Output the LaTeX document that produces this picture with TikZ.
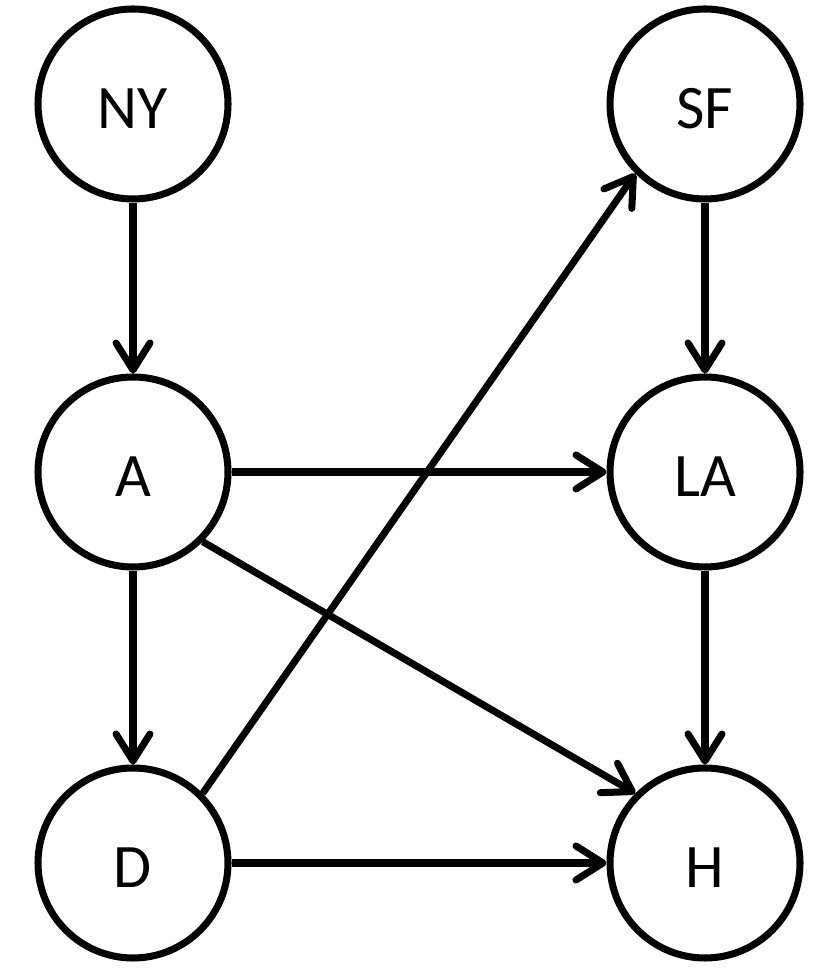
\documentclass[tikz,border=0pt]{standalone}
\usepackage{fontspec}
\setmainfont{Carlito}
\usetikzlibrary{arrows.meta}

\begin{document}
\begin{tikzpicture}[line width=2pt, >={Straight Barb[length=2.7mm,width=3.4mm,line cap=round,line join=round]},
    city/.style={circle, draw, minimum size=1.9cm, inner sep=0pt, text height=5mm, text depth=0pt,
        font=\fontsize{17.6}{20}\selectfont}]
    \useasboundingbox (0, 0) rectangle (8.28, 9.76);

    \draw (1.33, 8.72) node[city] (NY) {NY};
    \draw (7.05, 8.72) node[city] (SF) {SF};
    \draw (1.33, 5.04) node[city] (A) {A};
    \draw (7.05, 5.04) node[city] (LA) {LA};
    \draw (1.33, 1.13) node[city] (D) {D};
    \draw (7.05, 1.13) node[city] (H) {H};

    \foreach \from/\to in {NY/A, SF/LA, A/LA, A/D, LA/H, D/H}{
        \draw[->] (\from) -- (\to);
    }
    \draw[->] (A.-45) -- (H.135);
    \draw[->] (D.45) -- (SF.225);

\end{tikzpicture}
\end{document}
